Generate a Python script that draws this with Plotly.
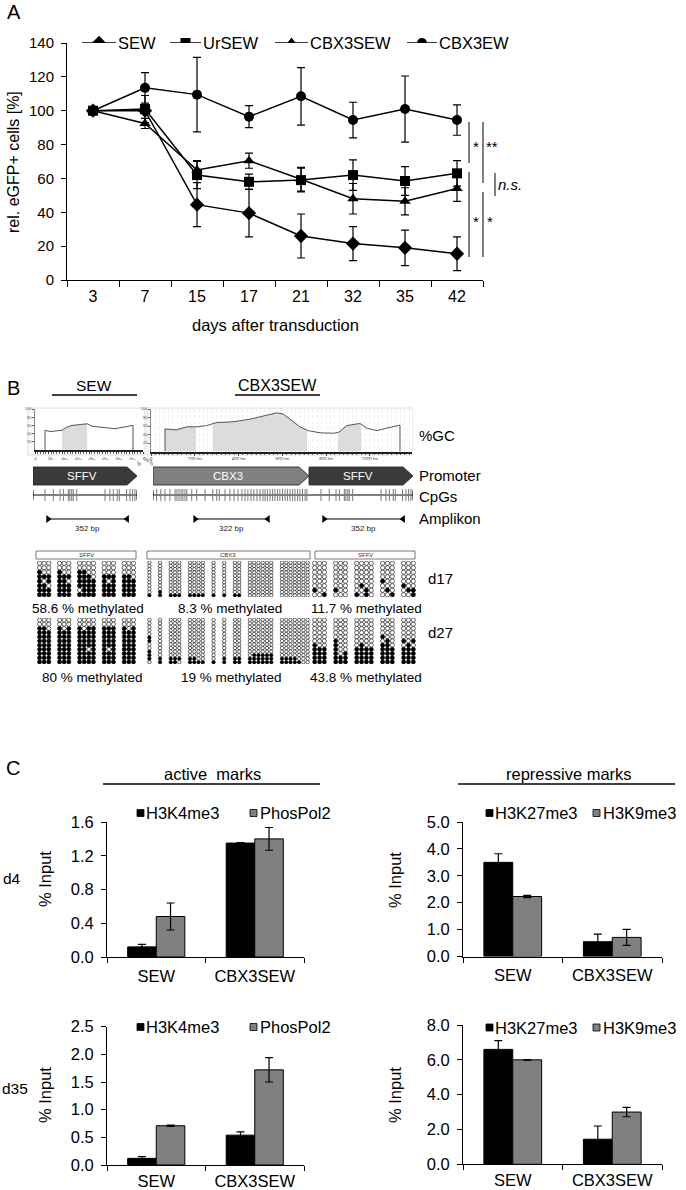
import numpy as np
import plotly.graph_objects as go

W, H = 686, 1190
FONT = "Liberation Sans, Arial, Helvetica, sans-serif"

# ---------------- Panel A data ----------------
days = ["3", "7", "15", "17", "21", "32", "35", "42"]
sew = [100, 100, 44.5, 39.5, 26, 21.5, 19, 15.5]
sew_err = [0, 0, 13, 14, 13, 10, 10.5, 10]
ursew = [100, 101, 62, 58, 59, 62, 58.5, 63]
ursew_err = [0, 8, 8, 4.5, 7, 9, 8.5, 7.5]
cbx3sew = [100, 92.5, 65, 70.5, 59.5, 48, 46.5, 54]
cbx3sew_err = [0, 3, 5.5, 4.5, 7, 9, 8, 7.5]
cbx3ew = [100, 113.5, 109.5, 96.5, 108.5, 94.5, 101, 94.5]
cbx3ew_err = [0, 9, 22, 6.5, 17, 10.5, 19.5, 9]

# ---------------- Panel B data ----------------
gc_sew_bp = [37, 56, 74, 100, 115, 137, 167, 193, 211, 241, 270, 296, 322, 344, 363]
gc_sew_val = [48, 45, 46, 48, 55, 60, 62, 64, 58, 56, 54, 52, 55, 57, 60]
gc_sew_shade = [(100, 193)]
gc_cbx_bp = [64, 117, 163, 209, 254, 300, 376, 453, 529, 575, 605, 635, 681, 719,
             773, 834, 857, 895, 955, 986, 1032, 1078, 1138]
gc_cbx_val = [53, 51, 58, 58, 61, 68, 70, 76, 86, 91, 88, 76, 58, 49,
              44, 43, 45, 61, 66, 55, 49, 55, 62]
gc_cbx_shade = [(64, 206), (283, 713), (855, 960)]

sffv_len = 400
cbx3_len = 600
sffv_cpg = [46, 78, 104, 117, 136, 142, 149, 155, 168, 277, 296, 309, 324, 332, 360, 373, 383, 392]
cbx3_cpg = [14, 30, 46, 65, 85, 92, 100, 108, 115, 123, 130, 149, 168, 200, 230, 245, 255,
            277, 296, 312, 327, 342, 354, 365, 377, 388, 400, 412, 423, 431, 440, 450, 460,
            469, 479, 488, 498, 508, 517, 527, 537, 546, 556, 565, 575, 585, 592]
amp_track1 = [(58, 362, "352 bp")]
amp_track2 = [(162, 442, "322 bp"), (658, 962, "352 bp")]

sffv_groups = [3, 3, 4, 3, 3]
cbx3_groups = [1, 1, 3, 4, 1, 1, 2, 6, 7]

sffv1_d17 = ["00111111", "00010111", "00011011",
             "00111111", "00011111", "00010111",
             "00111101", "00111111", "00011111", "00001111",
             "00011111", "00010111", "00011111",
             "00011111", "00011111", "00001111"]
cbx3_d17 = ["00000000001", "00000000011",
            "00000000001", "00000000001", "00000000001",
            "00000000001", "00000000001", "00000000001", "00000000001",
            "00000000001", "00000000001",
            "00000000001", "00000000001",
            "00000000000", "00000000000", "00000000000", "00000000000", "00000000000", "00000000000",
            "00000000000", "00000000000", "00000000000", "00000000000", "00000000000", "00000000000",
            "00000000000"]
sffv2_d17 = ["00000010", "00000000", "00000001",
             "00000010", "00000000", "00000000",
             "00000001", "00000100", "00000011", "00000000",
             "00001000", "00000010", "00000001",
             "00000100", "00000010", "00000011"]

sffv1_d27 = ["00111111111", "00111111111", "00011111111",
             "00111111111", "00011111111", "00111111111",
             "00111111111", "00011111111", "00111110111", "00111111111",
             "00111111111", "00111110111", "00111111111",
             "00111111111", "00011111111", "00111111111"]
cbx3_d27 = ["0000011001110", "0000000000011",
            "0000000000011", "0000000000011", "0000000000010",
            "0000000000011", "0000000000011", "0000000000001", "0000000000001",
            "0000000000001", "0000000000011",
            "0000000000011", "0000000000011",
            "0000000000011", "0000000000111", "0000000000111", "0000000000111", "0000000000111", "0000000000111",
            "0000000000011", "0000000000011", "0000000000011", "0000000000011", "0000000000001",
            "0000000000000", "0000000000000"]
sffv2_d27 = ["00000011111", "00000001111", "00000001111",
             "00000111111", "00000000011", "00000000111",
             "00000001111", "00000011111", "00000001111", "00000001111",
             "00001011111", "00000111111", "00000001111",
             "00000101111", "00000011111", "00000101111"]

meth_labels_d17 = ["58.6 % methylated", "8.3 % methylated", "11.7 % methylated"]
meth_labels_d27 = ["80 % methylated", "19 % methylated", "43.8 % methylated"]

# ---------------- Panel C data ----------------
c_groups = ["SEW", "CBX3SEW"]
d4_h3k4me3 = [0.12, 1.35]
d4_h3k4me3_err = [0.03, 0.005]
d4_phospol2 = [0.48, 1.40]
d4_phospol2_err = [0.16, 0.135]
d4_h3k27me3 = [3.5, 0.55]
d4_h3k27me3_err = [0.32, 0.28]
d4_h3k9me3 = [2.23, 0.71]
d4_h3k9me3_err = [0.04, 0.30]
d35_h3k4me3 = [0.12, 0.54]
d35_h3k4me3_err = [0.03, 0.06]
d35_phospol2 = [0.71, 1.72]
d35_phospol2_err = [0.01, 0.22]
d35_h3k27me3 = [6.6, 1.44]
d35_h3k27me3_err = [0.5, 0.76]
d35_h3k9me3 = [6.0, 3.0]
d35_h3k9me3_err = [0.02, 0.27]


def dx(a, b):
    return [a / W, b / W]


def dy(top, bottom):
    return [1 - bottom / H, 1 - top / H]


fig = go.Figure()
annotations = []
shapes = []
layout = {}


def text(x, y, s, size=14, xanchor="center", yanchor="middle", color="black", angle=0):
    annotations.append(dict(x=x / W, y=1 - y / H, xref="paper", yref="paper", text=s,
                            showarrow=False, font=dict(family=FONT, size=size, color=color),
                            xanchor=xanchor, yanchor=yanchor, textangle=angle, borderpad=0))


def cline(x0, y0, x1, y1, width=1.2, color="black"):
    shapes.append(dict(type="line", xref="x", yref="y", x0=x0, y0=y0, x1=x1, y1=y1,
                       line=dict(color=color, width=width)))


def crect(x0, y0, x1, y1, fill="white", line="black", width=0.8, layer="above"):
    shapes.append(dict(type="rect", xref="x", yref="y", x0=x0, y0=y0, x1=x1, y1=y1,
                       fillcolor=fill, line=dict(color=line, width=width), layer=layer))


# canvas axes (pixel coordinates)
layout["xaxis"] = dict(domain=[0, 1], range=[0, W], visible=False, fixedrange=True)
layout["yaxis"] = dict(domain=[0, 1], range=[H, 0], visible=False, fixedrange=True)
fig.add_trace(go.Scatter(x=[0], y=[0], mode="markers", marker=dict(size=1, color="white"),
                         xaxis="x", yaxis="y", showlegend=False, hoverinfo="skip"))

# ================= Panel A =================
a_series = [("SEW", sew, sew_err, "diamond", 11),
            ("UrSEW", ursew, ursew_err, "square", 10),
            ("CBX3SEW", cbx3sew, cbx3sew_err, "triangle-up", 10),
            ("CBX3EW", cbx3ew, cbx3ew_err, "circle", 10)]
for name, vals, errs, sym, sz in a_series:
    fig.add_trace(go.Scatter(x=days, y=vals, mode="lines+markers", name=name,
                             line=dict(color="black", width=1.5),
                             marker=dict(symbol=sym, size=sz, color="black"),
                             error_y=dict(type="data", array=errs, color="black", thickness=1.2, width=4),
                             xaxis="x2", yaxis="y2", showlegend=False))

layout["xaxis2"] = dict(domain=dx(67, 483), anchor="y2", type="category", range=[-0.5, 7.5],
                        showline=True, linecolor="black", linewidth=1, ticks="outside", ticklen=6,
                        tickcolor="black", tickson="boundaries", showgrid=False, zeroline=False,
                        ticklabelstandoff=2,
                        tickfont=dict(family=FONT, size=16, color="black"))
layout["yaxis2"] = dict(domain=dy(43, 280), anchor="x2", range=[0, 140], dtick=20,
                        showline=True, linecolor="black", linewidth=1, ticks="outside", ticklen=5,
                        tickcolor="black", showgrid=False, zeroline=False, ticklabelstandoff=4,
                        tickfont=dict(family=FONT, size=15, color="black"))

# legend A (manual)
leg_a = [("SEW", 82, 116, "diamond", 11), ("UrSEW", 170, 201, "square", 10),
         ("CBX3SEW", 275, 308, "triangle-up", 11), ("CBX3EW", 407, 437, "circle", 10)]
for name, x0, x1, sym, sz in leg_a:
    fig.add_trace(go.Scatter(x=[x0, x1], y=[43, 43], mode="lines", line=dict(color="black", width=1.5),
                             xaxis="x", yaxis="y", showlegend=False, hoverinfo="skip"))
    fig.add_trace(go.Scatter(x=[(x0 + x1) / 2], y=[43], mode="markers",
                             marker=dict(symbol=sym, size=sz, color="black"),
                             xaxis="x", yaxis="y", showlegend=False, hoverinfo="skip"))
    text(x1 + 1, 43, name, size=16.5, xanchor="left")

text(14, 12, "A", size=20)
text(14, 162, "rel. eGFP+ cells [%]", size=16, angle=-90)
text(275, 325, "days after transduction", size=16.5)

# significance brackets
for (x0, y0, x1, y1) in [(469, 122, 469, 163), (483, 122, 483, 183), (469, 172, 469, 257),
                         (483, 192, 483, 257), (495, 173, 495, 196)]:
    cline(x0, y0, x1, y1, width=1)
text(476, 146, "*", size=15)
text(492, 146, "**", size=15)
text(476, 221, "*", size=15)
text(490, 221, "*", size=15)
text(497, 184, "<i>n.s.</i>", size=15, xanchor="left")

# ================= Panel B =================
text(13, 388, "B", size=20)
text(94, 386, "SEW", size=15.5)
cline(52, 395, 137, 395, width=1.3)
text(277, 386, "CBX3SEW", size=16)
cline(235, 395, 320, 395, width=1.3)

crect(28, 408, 145, 455, fill="#fbfbfb", line="#d6d6d6", width=0.8, layer="below")
crect(147, 408, 412, 455, fill="#fbfbfb", line="#d6d6d6", width=0.8, layer="below")


def gc_plot(bp, val, shade, xa, ya):
    bp = np.asarray(bp, float)
    val = np.asarray(val, float)
    for a, b in shade:
        inner = bp[(bp > a) & (bp < b)]
        xs = np.concatenate([[a], inner, [b]])
        ys = np.interp(xs, bp, val)
        fig.add_trace(go.Scatter(x=xs, y=ys, mode="lines", fill="tozeroy", fillcolor="#dcdcdc",
                                 line=dict(width=0), xaxis=xa, yaxis=ya, showlegend=False,
                                 hoverinfo="skip"))
    fig.add_trace(go.Scatter(x=np.concatenate([[bp[0]], bp, [bp[-1]]]),
                             y=np.concatenate([[0], val, [0]]), mode="lines",
                             line=dict(color="#555555", width=1), xaxis=xa, yaxis=ya,
                             showlegend=False, hoverinfo="skip"))


gc_plot(gc_sew_bp, gc_sew_val, gc_sew_shade, "x3", "y3")
gc_plot(gc_cbx_bp, gc_cbx_val, gc_cbx_shade, "x4", "y4")

gc_x_common = dict(showline=True, linecolor="#222222", linewidth=2, ticks="outside", ticklen=2,
                   tickcolor="#444444", tickwidth=0.6, zeroline=False, showgrid=False,
                   tickfont=dict(family=FONT, size=4.5, color="#444444"))
gc_y_common = dict(showline=True, linecolor="#888888", linewidth=0.6, ticks="outside", ticklen=2,
                   tickcolor="#666666", tickwidth=0.6, zeroline=False, showgrid=False,
                   range=[0, 100], tickvals=[20, 40, 60, 80, 100],
                   tickfont=dict(family=FONT, size=4, color="#555555"))
layout["xaxis3"] = dict(domain=dx(35, 143), anchor="y3", range=[0, 400],
                        tickvals=list(range(0, 401, 50)),
                        ticktext=["1"] + ["%d bp" % v for v in range(50, 401, 50)],
                        minor=dict(ticks="outside", ticklen=1.5, tickcolor="#666666", dtick=10),
                        **gc_x_common)
layout["yaxis3"] = dict(domain=dy(409, 450), anchor="x3", **gc_y_common)
layout["xaxis4"] = dict(domain=dx(151, 412), anchor="y4", range=[0, 1193],
                        tickvals=[0, 200, 400, 600, 800, 1000],
                        ticktext=["0", "200 bp", "400 bp", "600 bp", "800 bp", "1000 bp"],
                        minor=dict(ticks="outside", ticklen=1.5, tickcolor="#666666", dtick=20,
                                   showgrid=True, gridcolor="#eeeeee", griddash="dot"),
                        **gc_x_common)
layout["yaxis4"] = dict(domain=dy(409, 451.5), anchor="x4", **gc_y_common)

text(418, 435, "%GC", size=15, xanchor="left")
text(418, 475, "Promoter", size=15, xanchor="left")
text(418, 496, "CpGs", size=15, xanchor="left")
text(418, 518, "Amplikon", size=15, xanchor="left")

# construct tracks
track_y = dict(range=[535, 460], visible=False)
layout["xaxis5"] = dict(domain=dx(33, 137), anchor="y5", range=[0, 400], visible=False)
layout["yaxis5"] = dict(domain=dy(460, 535), anchor="x5", **track_y)
layout["xaxis6"] = dict(domain=dx(153, 413), anchor="y6", range=[0, 1000], visible=False)
layout["yaxis6"] = dict(domain=dy(460, 535), anchor="x6", **track_y)

promoters = [("x5", "y5", "SFFV", 0, sffv_len, "#3a3a3a"),
             ("x6", "y6", "CBX3", 0, cbx3_len, "#808080"),
             ("x6", "y6", "SFFV", cbx3_len, cbx3_len + sffv_len, "#3a3a3a")]
tip = 38
for xa, ya, name, a, b, col in promoters:
    path = "M %g,467 L %g,467 L %g,476 L %g,485 L %g,485 Z" % (a, b - tip, b, b - tip, a)
    shapes.append(dict(type="path", xref=xa, yref=ya, path=path, fillcolor=col,
                       line=dict(color="#222222", width=0.8)))
    annotations.append(dict(x=(a + b) / 2 - 12, y=476, xref=xa, yref=ya, text=name, showarrow=False,
                            font=dict(family=FONT, size=11.5, color="white")))


def cpg_track(xa, ya, length, positions):
    fig.add_trace(go.Scatter(x=[0, length], y=[495, 495], mode="lines",
                             line=dict(color="black", width=1), xaxis=xa, yaxis=ya,
                             showlegend=False, hoverinfo="skip"))
    xs, ys = [], []
    for p in positions:
        xs += [p, p, None]
        ys += [489, 501, None]
    fig.add_trace(go.Scatter(x=xs, y=ys, mode="lines", line=dict(color="#7a7a7a", width=1),
                             xaxis=xa, yaxis=ya, showlegend=False, hoverinfo="skip"))
    fig.add_trace(go.Scatter(x=[0, 0, None, length, length], y=[490, 500, None, 490, 500], mode="lines",
                             line=dict(color="black", width=1), xaxis=xa, yaxis=ya,
                             showlegend=False, hoverinfo="skip"))


cpg_track("x5", "y5", sffv_len, sffv_cpg)
cpg_track("x6", "y6", cbx3_len + sffv_len, cbx3_cpg + [cbx3_len + p for p in sffv_cpg])


def amplicons(xa, ya, amps):
    for a, b, lab in amps:
        fig.add_trace(go.Scatter(x=[a, b], y=[519, 519], mode="lines",
                                 line=dict(color="black", width=1.2), xaxis=xa, yaxis=ya,
                                 showlegend=False, hoverinfo="skip"))
        fig.add_trace(go.Scatter(x=[a, b], y=[519, 519], mode="markers",
                                 marker=dict(symbol=["triangle-right", "triangle-left"], size=7,
                                             color="black"),
                                 xaxis=xa, yaxis=ya, showlegend=False, hoverinfo="skip"))
        annotations.append(dict(x=(a + b) / 2, y=528, xref=xa, yref=ya, text=lab, showarrow=False,
                                font=dict(family=FONT, size=8, color="#222222")))


amplicons("x5", "y5", amp_track1)
amplicons("x6", "y6", amp_track2)

# methylation headers
for (x0, x1, lab) in [(36, 136, "SFFV"), (147, 310, "CBX3"), (315, 415, "SFFV")]:
    crect(x0, 551, x1, 559, fill="white", line="#555555", width=0.8)
    text((x0 + x1) / 2, 555, lab, size=6, color="#333333")


def block(cols, groups, gap, xa, ya, xdom, ydom, msize):
    xs, ys, cs = [], [], []
    ci = 0
    for gi, n in enumerate(groups):
        for k in range(n):
            for r, ch in enumerate(cols[ci]):
                xs.append(ci + gi * gap)
                ys.append(r)
                cs.append("black" if ch == "1" else "white")
            ci += 1
    nrows = len(cols[0])
    fig.add_trace(go.Scatter(x=xs, y=ys, mode="markers",
                             marker=dict(symbol="circle", size=msize, color=cs,
                                         line=dict(color="black", width=0.6)),
                             xaxis=xa, yaxis=ya, showlegend=False, hoverinfo="skip"))
    layout["xaxis" + xa[1:]] = dict(domain=dx(*xdom), anchor=ya, range=[-0.55, max(xs) + 0.55],
                                    visible=False)
    layout["yaxis" + ya[1:]] = dict(domain=dy(*ydom), anchor=xa, range=[nrows - 0.5, -0.5],
                                    visible=False)


block(sffv1_d17, sffv_groups, 1.33, "x7", "y7", (37, 136), (561, 597), 4.3)
block(cbx3_d17, cbx3_groups, 1.5, "x8", "y8", (147, 310), (561, 597), 3.4)
block(sffv2_d17, sffv_groups, 1.33, "x9", "y9", (312, 416), (561, 597), 4.3)
block(sffv1_d27, sffv_groups, 1.33, "x10", "y10", (37, 136), (618, 664), 4.1)
block(cbx3_d27, cbx3_groups, 1.5, "x11", "y11", (147, 310), (618, 664), 3.4)
block(sffv2_d27, sffv_groups, 1.33, "x12", "y12", (312, 416), (618, 664), 4.1)

for xc, lab in zip([88, 230, 366], meth_labels_d17):
    text(xc, 608, lab, size=13.5)
for xc, lab in zip([92, 231, 366], meth_labels_d27):
    text(xc, 677, lab, size=13.5)
text(427, 578, "d17", size=15, xanchor="left")
text(427, 632, "d27", size=15, xanchor="left")

# ================= Panel C =================
text(13, 768, "C", size=20)
text(212, 774, "active\u00a0 marks", size=16.5)
cline(103, 784, 320, 784, width=1.3)
text(569, 774, "repressive marks", size=16.5)
cline(458, 784, 675, 784, width=1.3)

bar_panels = [
    ("x13", "y13", (107, 304), (822, 957), [0, 1.6], [0, 0.4, 0.8, 1.2, 1.6],
     ("H3K4me3", d4_h3k4me3, d4_h3k4me3_err), ("PhosPol2", d4_phospol2, d4_phospol2_err),
     (137, 250, 813), 45, 879, 4),
    ("x14", "y14", (463, 662), (822, 956.5), [0, 5], [0, 1, 2, 3, 4, 5],
     ("H3K27me3", d4_h3k27me3, d4_h3k27me3_err), ("H3K9me3", d4_h3k9me3, d4_h3k9me3_err),
     (486, 593, 813), 395, 880, 4),
    ("x15", "y15", (107, 304), (1026.7, 1165), [0, 2.5], [0, 0.5, 1.0, 1.5, 2.0, 2.5],
     ("H3K4me3", d35_h3k4me3, d35_h3k4me3_err), ("PhosPol2", d35_phospol2, d35_phospol2_err),
     (137, 250, 1027), 45, 1095, 1),
    ("x16", "y16", (463, 662), (1025, 1164.3), [0, 8], [0, 2, 4, 6, 8],
     ("H3K27me3", d35_h3k27me3, d35_h3k27me3_err), ("H3K9me3", d35_h3k9me3, d35_h3k9me3_err),
     (486, 593, 1027.5), 395, 1095, 1),
]
for xa, ya, xdom, ydom, yr, yt, s1, s2, leg, ytx, yty, xstand in bar_panels:
    for (name, vals, errs), col in [(s1, "black"), (s2, "#808080")]:
        fig.add_trace(go.Bar(x=c_groups, y=vals, name=name,
                             marker=dict(color=col, line=dict(color="black", width=1)),
                             error_y=dict(type="data", array=errs, color="black", thickness=1.2, width=4),
                             xaxis=xa, yaxis=ya, showlegend=False))
    layout["xaxis" + xa[1:]] = dict(domain=dx(*xdom), anchor=ya, type="category", range=[-0.5, 1.5],
                                    showline=True, linecolor="black", linewidth=1, ticks="outside",
                                    ticklen=5, tickcolor="black", tickson="boundaries", showgrid=False,
                                    zeroline=False, ticklabelstandoff=xstand,
                                    tickfont=dict(family=FONT, size=16.5, color="black"))
    layout["yaxis" + ya[1:]] = dict(domain=dy(*ydom), anchor=xa, range=yr, tickvals=yt,
                                    tickformat=".1f", showline=True, linecolor="black", linewidth=1,
                                    ticks="outside", ticklen=5, tickcolor="black", showgrid=False,
                                    zeroline=False, ticklabelstandoff=4,
                                    tickfont=dict(family=FONT, size=16.5, color="black"))
    xb, xg, yl = leg
    crect(xb, yl - 3.5, xb + 7, yl + 3.5, fill="black", line="black", width=0.8)
    text(xb + 7.5, yl, s1[0], size=16.5, xanchor="left")
    crect(xg, yl - 3.5, xg + 7, yl + 3.5, fill="#808080", line="black", width=0.8)
    text(xg + 8.5, yl, s2[0], size=16.5, xanchor="left")
    text(ytx, yty, "% Input", size=16.5, angle=-90)

text(12, 878, "d4", size=15.5)
text(15, 1088, "d35", size=15.5)

layout.update(dict(width=W, height=H, margin=dict(l=0, r=0, t=0, b=0, pad=0, autoexpand=False),
                   paper_bgcolor="white", plot_bgcolor="white", showlegend=False, barmode="group",
                   bargap=0.42, bargroupgap=0, font=dict(family=FONT, color="black"),
                   annotations=annotations, shapes=shapes))
fig.update_layout(**layout)

fig.write_html("out.html", config={"displayModeBar": False},
               post_script="document.body.style.margin='0px';document.body.style.overflow='hidden';")
